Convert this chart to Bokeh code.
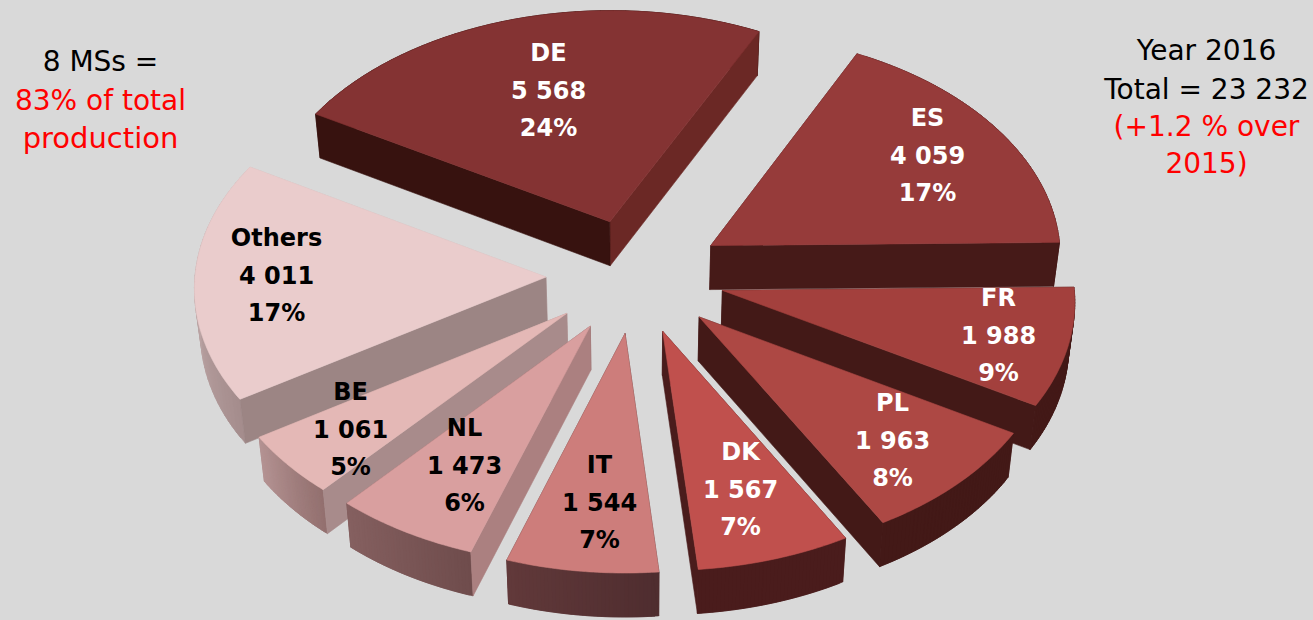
import numpy as np
from bokeh.plotting import figure
from bokeh.embed import file_html
from bokeh.resources import INLINE
from bokeh.core.properties import value

# ---- data ----
categories = ["DE", "ES", "FR", "PL", "DK", "IT", "NL", "BE", "Others"]
production = [5568, 4059, 1988, 1963, 1567, 1544, 1473, 1061, 4011]
value_labels = ["5 568", "4 059", "1 988", "1 963", "1 567", "1 544", "1 473", "1 061", "4 011"]
percent_labels = ["24%", "17%", "9%", "8%", "7%", "7%", "6%", "5%", "17%"]

# ---- styles ----
top_colors = ["#843333", "#963b3a", "#a3403d", "#ad4844", "#c0504d", "#cd7d7b", "#d99f9f", "#e4b8b6", "#eacccc"]
start_face = ["#37120f", "#461a18", "#431917", "#431917", "#4a1c1c", "#4f2d2f", "#ab8080", "#a88b8b", "#9c8584"]
end_face = ["#6b2825", "#461a18", "#431917", "#431917", "#4a1c1c", "#61393a", "#856060", "#b39292", "#d0bcbc"]
wall_start = ["#37120f", "#461a18", "#431917", "#431917", "#4a1c1c", "#4f2d2f", "#6f4c4c", "#93706f", "#a58d8d"]
wall_end = ["#37120f", "#461a18", "#431917", "#431917", "#4a1c1c", "#61393a", "#856060", "#b39292", "#d6c0c0"]
text_colors = ["white"] * 5 + ["black"] * 4
label_x = [548, 927, 998, 892, 740, 599, 464, 350, 276]
label_y = [52, 117, 297, 402, 451, 464, 427, 391, 237]
paint_order = [0, 1, 8, 2, 7, 3, 6, 4, 5]

# ---- projection of the exploded, tilted pie ----
CX, CY, RX, RY, K = 635.0, 275.5, 351.0, 224.5, 0.042
EXPLODE, DEPTH, BOTTOM_SHRINK = 0.255, 44.0, 0.986
START_DEG = -60.0


def project(u, v):
    s = 1.0 / (1.0 - K * v)
    return CX + RX * u * s, CY + RY * v * s


def lower(x, y):
    return CX + (x - CX) * BOTTOM_SHRINK, y + DEPTH


def hex_mix(a, b, t):
    ca = [int(a[i:i + 2], 16) for i in (1, 3, 5)]
    cb = [int(b[i:i + 2], 16) for i in (1, 3, 5)]
    return "#%02x%02x%02x" % tuple(round(p + (q - p) * t) for p, q in zip(ca, cb))


p = figure(width=1313, height=620, x_range=(0, 1313), y_range=(620, 0),
           output_backend="svg", toolbar_location=None, min_border=0,
           background_fill_color="#d9d9d9", border_fill_color="#d9d9d9",
           outline_line_color=None)
p.axis.visible = False
p.grid.visible = False

spans = np.array(production, dtype=float) / sum(production) * 360.0
edges = START_DEG + np.concatenate([[0.0], np.cumsum(spans)])


def poly(xs, ys, color):
    p.patch(list(xs), list(ys), fill_color=color, fill_alpha=1.0, line_color=color,
            line_alpha=1.0, line_width=0.6)


for i in paint_order:
    a0, a1 = np.radians(edges[i]), np.radians(edges[i + 1])
    mid = (a0 + a1) / 2
    au, av = EXPLODE * np.sin(mid), -EXPLODE * np.cos(mid)
    ts = np.linspace(a0, a1, 41)
    ax, ay = project(au, av)
    ex, ey = project(au + np.sin(ts), av - np.cos(ts))
    bx, by = lower(ex, ey)
    bax, bay = lower(ax, ay)

    def strips(front):
        for j in range(len(ts) - 1):
            if (np.cos(ts[j]) < 0) != front:
                continue
            k = min(j + 2, len(ts) - 1)      # strips overlap so no seams show
            c = hex_mix(wall_start[i], wall_end[i], j / (len(ts) - 2))
            poly([ex[j], ex[k], bx[k], bx[j]], [ey[j], ey[k], by[k], by[j]], c)

    start_quad = ([ax, ex[0], bx[0], bax], [ay, ey[0], by[0], bay], start_face[i])
    end_quad = ([ax, ex[-1], bx[-1], bax], [ay, ey[-1], by[-1], bay], end_face[i])
    right_side = np.sin(mid) > 0
    hidden, visible = (start_quad, end_quad) if right_side else (end_quad, start_quad)
    strips(front=False)
    poly(*hidden)
    strips(front=True)
    poly(*visible)
    poly(np.r_[ax, ex], np.r_[ay, ey], top_colors[i])

LINE_STEP = [38, 37]
for i, cat in enumerate(categories):
    ys = [label_y[i], label_y[i] + LINE_STEP[0], label_y[i] + sum(LINE_STEP)]
    p.text([label_x[i]] * 3, ys, text=[cat, value_labels[i], percent_labels[i]],
           text_color=text_colors[i], text_align="center", text_baseline="middle",
           text_font=value("DejaVu Sans"), text_font_style="bold", text_font_size="24px")

for x, y, s, c, fs in [
    (100, 61, "8 MSs =", "black", "28px"),
    (100, 100, "83% of total", "red", "28px"),
    (100, 137, "production", "red", "29px"),
    (1206, 50, "Year 2016", "black", "28px"),
    (1206, 89, "Total = 23 232", "black", "28px"),
    (1206, 126, "(+1.2 % over", "red", "28px"),
    (1206, 163, "2015)", "red", "28px"),
]:
    p.text([x], [y], text=[s], text_color=c, text_align="center", text_baseline="middle",
           text_font=value("DejaVu Sans"), text_font_size=fs)

html = file_html(p, INLINE)
html = html.replace("<head>", "<head><style>html,body{margin:0;padding:0;background:#d9d9d9;overflow:hidden}</style>", 1)
open("out.html", "w").write(html)
